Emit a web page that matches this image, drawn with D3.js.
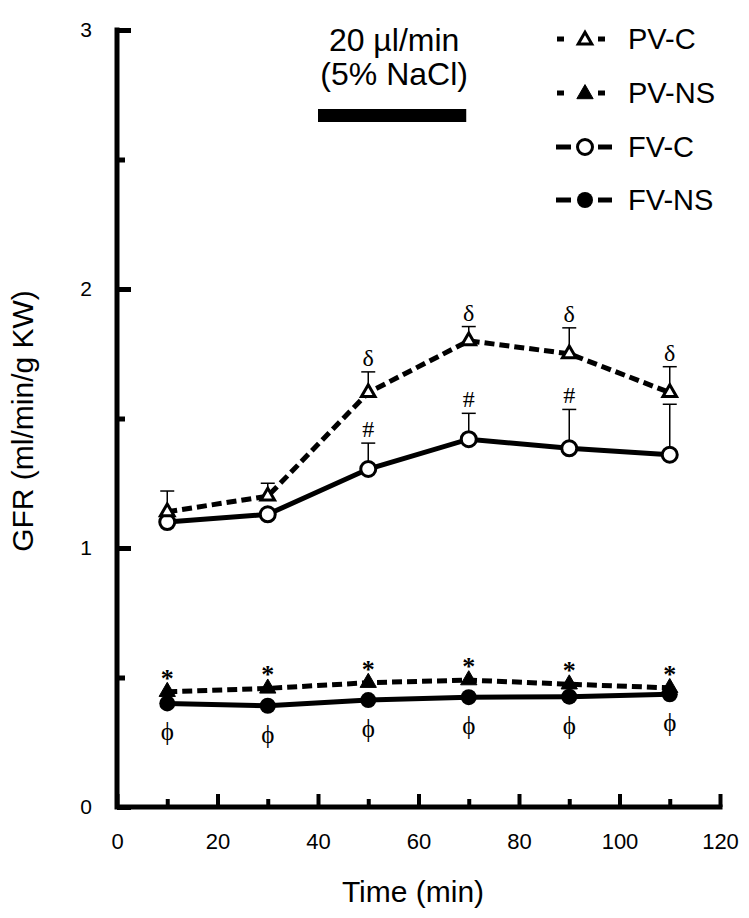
<!DOCTYPE html>
<html><head><meta charset="utf-8">
<script src="https://cdn.jsdelivr.net/npm/d3@7"></script>
<style>body{margin:0;background:#fff}svg{display:block}</style>
</head><body>
<script>
// ---- data ----
const times = [10, 30, 50, 70, 90, 110];
const pvC = [1.14, 1.20, 1.60, 1.80, 1.75, 1.60];
const pvCSE = [0.08, 0.05, 0.08, 0.055, 0.10, 0.10];
const fvC = [1.10, 1.13, 1.305, 1.42, 1.385, 1.36];
const fvCSE = [0, 0, 0.10, 0.10, 0.15, 0.195];
const pvNS = [0.445, 0.458, 0.48, 0.49, 0.474, 0.46];
const fvNS = [0.40, 0.391, 0.413, 0.424, 0.426, 0.435];
const pvCMarks = ["", "", "δ", "δ", "δ", "δ"];
const fvCMarks = ["", "", "#", "#", "#", ""];
const pvNSMarks = ["*", "*", "*", "*", "*", "*"];
const fvNSMarks = ["ϕ", "ϕ", "ϕ", "ϕ", "ϕ", "ϕ"];
const xMajorTicks = [0, 20, 40, 60, 80, 100, 120];
const xMinorTicks = [10, 30, 50, 70, 90, 110];
const yMajorTicks = [0, 1, 2, 3];
const yMinorTicks = [0.5, 1.5, 2.5];
const legendLabels = ["PV-C", "PV-NS", "FV-C", "FV-NS"];
const infusion = [40, 69.5];
const infusionText = ["20 µl/min", "(5% NaCl)"];

const W = 749, H = 918;
const svg = d3.select("body").append("svg").attr("width", W).attr("height", H);
const x = d3.scaleLinear().domain([0, 120]).range([117, 720]);
const y = d3.scaleLinear().domain([0, 3]).range([807, 30]);
const sans = "'Liberation Sans', Arial, Helvetica, sans-serif";
const serif = "'Liberation Serif', 'DejaVu Serif', 'Times New Roman', serif";

// ---- axes ----
const gx = svg.append("g").attr("transform", `translate(0,${y(0)})`);
gx.call(d3.axisBottom(x).tickValues(xMajorTicks).tickSizeInner(-13).tickSizeOuter(0).tickPadding(26));
gx.select(".domain").remove();
gx.selectAll(".tick line").attr("stroke", "#000").attr("stroke-width", 4);
gx.selectAll(".tick text").attr("font-family", sans).attr("font-size", 22).attr("fill", "#000");
const gxm = svg.append("g").attr("transform", `translate(0,${y(0)})`);
gxm.call(d3.axisBottom(x).tickValues(xMinorTicks).tickSizeInner(-8).tickSizeOuter(0).tickFormat(""));
gxm.select(".domain").remove();
gxm.selectAll(".tick line").attr("stroke", "#000").attr("stroke-width", 4);

const gy = svg.append("g").attr("transform", `translate(${x(0)},0)`);
gy.call(d3.axisLeft(y).tickValues(yMajorTicks).tickSizeInner(-14).tickSizeOuter(0).tickPadding(25).tickFormat(d3.format("d")));
gy.select(".domain").remove();
gy.selectAll(".tick line").attr("stroke", "#000").attr("stroke-width", 5);
gy.selectAll(".tick text").attr("font-family", sans).attr("font-size", 21).attr("fill", "#000");
const gym = svg.append("g").attr("transform", `translate(${x(0)},0)`);
gym.call(d3.axisLeft(y).tickValues(yMinorTicks).tickSizeInner(-8).tickSizeOuter(0).tickFormat(""));
gym.select(".domain").remove();
gym.selectAll(".tick line").attr("stroke", "#000").attr("stroke-width", 5);

svg.append("path").attr("fill", "none").attr("stroke", "#000").attr("stroke-width", 5)
  .attr("stroke-linecap", "square")
  .attr("d", `M${x(0)},${y(3)} L${x(0)},${y(0)} L${x(120)},${y(0)}`);

svg.append("text").attr("x", 413).attr("y", 902).attr("text-anchor", "middle")
  .attr("font-family", sans).attr("font-size", 30).text("Time (min)");
svg.append("text").attr("transform", `translate(33,421) rotate(-90)`)
  .attr("text-anchor", "middle").attr("font-family", sans).attr("font-size", 30).text("GFR (ml/min/g KW)");

// ---- infusion bar ----
svg.append("rect").attr("x", x(infusion[0])).attr("y", 109).attr("width", x(infusion[1]) - x(infusion[0])).attr("height", 13).attr("fill", "#000");
infusionText.forEach((t, i) => {
  svg.append("text").attr("x", (x(infusion[0]) + x(infusion[1])) / 2 + 2).attr("y", 51 + i * 34)
    .attr("text-anchor", "middle").attr("font-family", sans).attr("font-size", 32).text(t);
});

// ---- series ----
const line = vals => d3.line().x((d, i) => x(times[i])).y(d => y(d))(vals);
function drawLine(vals, dashed) {
  svg.append("path").attr("d", line(vals)).attr("fill", "none").attr("stroke", "#000")
    .attr("stroke-width", 5).attr("stroke-dasharray", dashed ? "10,5" : null);
}
function drawErr(vals, se) {
  vals.forEach((v, i) => {
    if (!se[i]) return;
    const cx = x(times[i]), top = y(v + se[i]);
    svg.append("line").attr("x1", cx).attr("x2", cx).attr("y1", y(v)).attr("y2", top).attr("stroke", "#000").attr("stroke-width", 1.5);
    svg.append("line").attr("x1", cx - 7).attr("x2", cx + 7).attr("y1", top).attr("y2", top).attr("stroke", "#000").attr("stroke-width", 1.5);
  });
}
const triOpen = d3.symbol(d3.symbolTriangle, 80);
const triFill = d3.symbol(d3.symbolTriangle, 115);
function drawTri(vals, filled) {
  svg.append("g").selectAll("path").data(vals).join("path")
    .attr("transform", (d, i) => `translate(${x(times[i])},${y(d)})`)
    .attr("d", filled ? triFill : triOpen)
    .attr("fill", filled ? "#000" : "#fff").attr("stroke", "#000").attr("stroke-width", filled ? 1 : 3);
}
function drawCirc(vals, filled) {
  svg.append("g").selectAll("circle").data(vals).join("circle")
    .attr("cx", (d, i) => x(times[i])).attr("cy", d => y(d))
    .attr("r", filled ? 8 : 7.5)
    .attr("fill", filled ? "#000" : "#fff").attr("stroke", "#000").attr("stroke-width", filled ? 0 : 3);
}
function drawMarks(vals, se, marks, dy, size, weight) {
  svg.append("g").selectAll("text").data(marks).join("text")
    .attr("x", (d, i) => x(times[i])).attr("y", (d, i) => y(vals[i] + (se ? se[i] : 0)) + dy)
    .attr("text-anchor", "middle").attr("font-family", serif).attr("font-size", size)
    .attr("font-weight", weight || "normal").text(d => d);
}

drawLine(fvC, false);
drawLine(pvC, true);
drawErr(fvC, fvCSE);
drawErr(pvC, pvCSE);
drawCirc(fvC, false);
drawTri(pvC, false);
drawMarks(pvC, pvCSE, pvCMarks, -6, 24);
drawMarks(fvC, fvCSE, fvCMarks, -6, 24);

drawLine(fvNS, false);
drawLine(pvNS, true);
drawCirc(fvNS, true);
drawTri(pvNS, true);
drawMarks(pvNS, null, pvNSMarks, -5, 26, "bold");
drawMarks(fvNS, null, fvNSMarks, 37, 25);

// ---- legend ----
const legY = [39, 93, 147, 200];
legendLabels.forEach((lab, i) => {
  const g = svg.append("g").attr("transform", `translate(585,${legY[i]})`);
  const isPV = i < 2, filled = i % 2 === 1;
  const segs = isPV ? [[-28, -21], [13, 20]] : [[-29, -14], [13, 27]];
  segs.forEach(s => g.append("line").attr("x1", s[0]).attr("x2", s[1]).attr("y1", 0).attr("y2", 0).attr("stroke", "#000").attr("stroke-width", 5));
  if (isPV) {
    g.append("path").attr("d", filled ? triFill : triOpen).attr("transform", "translate(0,1)")
      .attr("fill", filled ? "#000" : "#fff").attr("stroke", "#000").attr("stroke-width", filled ? 1 : 3);
  } else {
    g.append("circle").attr("r", filled ? 8 : 7.5).attr("fill", filled ? "#000" : "#fff").attr("stroke", "#000").attr("stroke-width", filled ? 0 : 3);
  }
  svg.append("text").attr("x", 628).attr("y", legY[i]).attr("dy", "0.36em").attr("font-family", sans).attr("font-size", 29).text(lab);
});
</script>
</body></html>
